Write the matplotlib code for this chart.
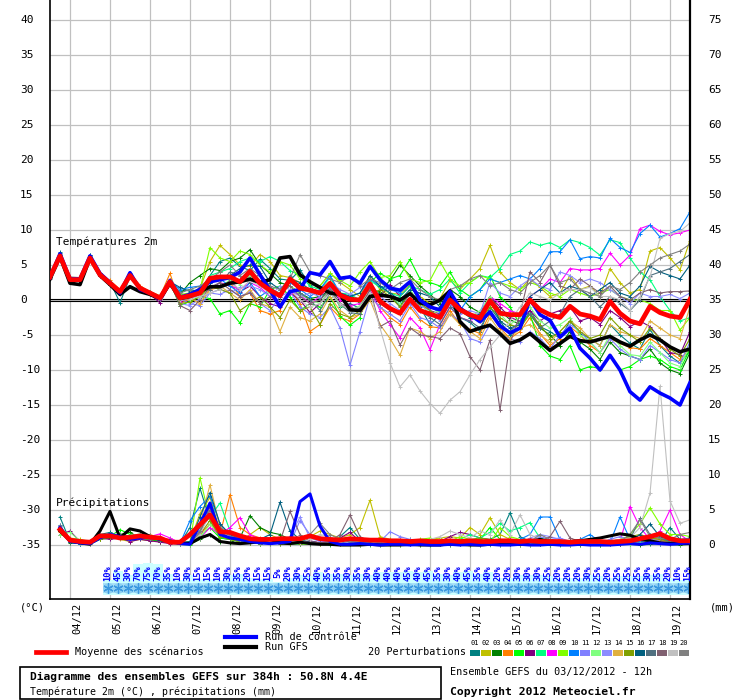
import numpy as np
import matplotlib
matplotlib.use('Agg')
import matplotlib.pyplot as plt
from matplotlib.patches import Rectangle

plt.rcParams['font.family'] = ['DejaVu Sans Mono', 'DejaVu Sans']

# ---- data: 6-hourly steps from 03/12 12h (65 steps, 384h) ----
date_labels = ['04/12', '05/12', '06/12', '07/12', '08/12', '09/12', '10/12', '11/12',
               '12/12', '13/12', '14/12', '15/12', '16/12', '17/12', '18/12', '19/12']

t_mean = [3.3, 6.3, 2.9, 2.9, 6.0, 3.6, 2.4, 1.2, 3.5, 1.7, 1.0, 0.3, 2.6,
          0.3, 0.6, 1.0, 3.1, 3.3, 3.3, 2.6, 4.1, 2.4, 1.4, 0.6, 3.0, 1.7,
          1.4, 1.0, 2.4, 0.7, 0.1, 0.0, 2.3, -0.2, -1.2, -1.9, 0.1, -1.5, -2.0,
          -2.5, 0.0, -1.4, -2.1, -2.6, -0.1, -1.9, -2.1, -2.1, 0.0, -1.4, -2.1, -2.5,
          -0.9, -2.0, -2.3, -2.8, -0.2, -1.9, -3.0, -3.4, -0.9, -1.8, -2.3, -2.5, 0.1]
t_ctrl = [3.2, 6.6, 3.0, 3.0, 6.3, 3.8, 2.5, 1.0, 3.9, 1.5, 1.0, 0.2, 2.8,
          0.4, 0.8, 1.5, 2.6, 2.9, 3.2, 4.0, 6.0, 3.6, 1.4, -1.0, 1.2, 1.5,
          3.9, 3.6, 5.5, 3.1, 3.3, 2.4, 4.8, 2.9, 1.7, 1.4, 2.6, 0.0, -1.0,
          -1.4, 1.2, -1.2, -2.1, -3.1, -1.7, -3.7, -4.7, -4.0, 0.1, -2.1, -2.9, -5.3,
          -4.0, -6.9, -8.3, -10.0, -7.9, -10.0, -13.1, -14.3, -12.4, -13.3, -14.0, -15.0, -11.8]
t_gfs = [3.0, 6.2, 2.4, 2.2, 6.0, 3.5, 2.2, 0.8, 1.9, 1.2, 0.8, 0.2, 2.4,
         0.2, 0.5, 1.2, 1.9, 1.9, 2.4, 2.6, 3.0, 2.5, 2.9, 6.0, 6.2, 3.6,
         2.6, 1.8, 1.0, 0.8, -1.4, -1.5, 0.5, 0.7, 0.5, 0.0, 0.9, -0.4, -0.7,
         0.0, 1.3, -3.1, -4.5, -4.0, -3.6, -4.8, -6.2, -5.7, -4.8, -6.0, -7.2, -6.2,
         -5.2, -5.8, -6.0, -5.6, -5.2, -6.0, -6.6, -5.7, -5.0, -5.7, -6.7, -7.4, -7.0]

t01 = [3.5, 6.8, 3.1, 3.0, 6.4, 3.9, 2.6, -0.4, 3.3, 1.6, 0.8, 0.2, 2.5,
       1.2, 1.5, 1.2, 3.5, 5.5, 6.0, 4.8, 4.2, 5.8, 4.5, 3.0, 2.8, 4.3,
       2.2, 0.0, 1.8, -1.0, -0.5, -1.2, 1.5, 1.0, 0.5, -0.8, 1.2, -1.0, -3.5,
       -2.0, -0.5, -2.5, -3.2, -4.5, -1.0, -3.0, -5.0, -4.2, -1.5, -3.8, -4.5, -5.5,
       -3.0, -4.8, -5.5, -6.5, -3.5, -5.0, -6.2, -7.0, -4.2, -6.5, -8.0, -9.0, -7.2]
t02 = [3.3, 6.2, 2.8, 2.9, 5.8, 3.5, 2.3, 1.2, 3.4, 1.8, 1.1, 0.4, 2.4,
       0.5, 0.2, 1.6, 5.5, 7.8, 6.5, 5.0, 4.8, 6.5, 5.5, 3.5, 3.2, 2.5,
       1.0, 2.0, 3.8, 2.5, 1.5, 0.5, 3.5, 1.5, 1.0, 0.8, 2.2, 0.5, -0.5,
       0.2, 2.8, 1.5, 3.0, 4.5, 7.8, 4.0, 2.5, 1.5, 3.0, 1.8, 0.5, 1.0,
       3.5, 1.5, 2.0, 0.5, 4.5, 2.5, 1.0, 1.5, 7.0, 7.5, 6.0, 4.3, 8.5]
t03 = [3.2, 6.4, 3.0, 2.8, 6.1, 3.7, 2.5, 1.3, 3.6, 1.6, 0.9, 0.3, 2.7,
       0.8, 2.5, 3.5, 4.5, 4.2, 5.5, 6.0, 7.2, 5.0, 3.8, 2.5, 2.0, 1.0,
       0.2, 0.5, 1.5, 0.0, 0.8, -0.5, 1.5, 1.2, 2.8, 5.0, 3.5, 2.0, 0.8,
       -0.5, 1.5, 0.5, -1.0, -1.8, 0.5, -1.5, -2.8, -3.5, -2.0, -4.0, -5.0, -6.5,
       -4.5, -6.0, -7.0, -8.5, -6.0, -7.5, -8.0, -8.5, -7.0, -9.0, -10.0, -10.5, -7.5]
t04 = [3.4, 6.3, 2.9, 3.1, 6.0, 3.5, 2.8, 1.5, 3.6, 2.0, 1.2, 0.5, 3.8,
       -0.5, 0.2, -0.5, 1.5, 1.8, 2.5, 0.5, 1.0, -1.5, -2.0, -1.5, 1.5, -0.5,
       -4.5, -3.5, -1.0, -2.5, -3.0, -2.0, 0.5, -1.0, -2.5, -3.5, -1.0, -2.8, -3.8,
       -4.0, -1.5, -3.5, -4.2, -4.8, -2.0, -4.0, -5.5, -4.5, -2.5, -4.8, -6.5, -5.5,
       -3.8, -5.0, -6.5, -7.5, -5.5, -6.2, -6.8, -7.0, -5.5, -6.5, -7.5, -8.5, -7.0]
t05 = [3.3, 6.3, 3.0, 2.9, 6.0, 3.6, 2.2, 1.0, 3.3, 1.5, 1.0, 0.3, 2.5,
       -0.8, -0.2, 0.5, 0.2, -2.0, -1.5, -3.3, -0.5, -1.0, 1.5, 2.0, 0.5, -1.5,
       -0.5, -1.0, 0.5, -2.3, -3.6, -2.5, 2.5, 3.8, 3.0, 3.5, 5.8, 3.0, 2.5,
       2.0, 4.0, 1.5, 0.5, 1.5, 3.5, 0.5, -1.0, -3.5, -2.0, -6.5, -8.0, -8.5,
       -6.5, -10.0, -9.5, -9.8, -8.0, -10.0, -9.5, -8.5, -8.0, -8.5, -9.5, -10.0, -7.0]
t06 = [3.1, 6.2, 2.8, 2.7, 6.2, 3.8, 2.4, 1.1, 3.7, 1.4, 0.8, -0.4, 2.2,
       0.6, 0.1, 0.8, 2.0, 1.5, 2.8, 1.2, 2.0, 0.5, -0.5, -1.0, 1.0, 0.0,
       -1.8, -0.5, 1.2, -0.5, -1.5, -1.0, 1.8, 0.5, 2.2, 0.5, 2.0, 0.0, -1.5,
       -2.0, 0.5, -1.0, -2.0, -2.5, 0.5, -1.0, -2.5, -3.0, -1.5, -3.0, -2.0, -1.5,
       -1.0, -3.0, -2.5, -3.5, -1.5, -2.5, -3.8, -3.0, -3.8, -5.5, -7.5, -7.8, -4.5]
t07 = [3.4, 6.5, 3.1, 3.0, 6.1, 3.7, 2.3, 1.2, 3.5, 1.8, 1.0, 0.4, 2.8,
       0.5, 0.9, 1.2, 3.5, 4.0, 4.5, 5.5, 6.0, 5.5, 6.2, 5.5, 4.2, 3.5,
       2.0, 1.5, 3.2, 1.0, 0.8, 0.0, 2.8, 1.8, 1.0, 0.5, 2.0, 1.5, 0.8,
       1.5, 3.0, 1.0, 2.5, 3.5, 3.2, 4.5, 6.5, 7.0, 8.3, 7.8, 8.2, 7.5,
       8.6, 8.2, 7.5, 6.4, 8.6, 8.2, 6.0, 4.0, 2.9, 0.5, -1.5, -3.0, -2.5]
t08 = [3.2, 6.3, 2.9, 3.0, 5.9, 3.4, 2.4, 1.1, 3.4, 1.7, 1.0, 0.2, 2.6,
       -0.3, 0.5, 0.8, 1.5, 2.5, 2.0, 1.5, 2.5, 1.8, 0.5, -0.5, 1.0, 0.8,
       -0.5, 0.5, 2.0, 0.0, -0.8, -0.5, 1.5, -1.5, -3.5, -5.4, -2.5, -4.0, -7.1,
       -3.5, -1.0, -2.5, -3.0, -2.0, 0.5, -0.5, -1.5, -2.0, 0.5, 1.5, 3.0, 2.5,
       4.5, 4.3, 4.3, 4.5, 6.7, 5.0, 6.4, 10.2, 10.7, 9.8, 9.3, 9.6, 10.0]
t09 = [3.5, 6.4, 3.2, 3.1, 6.2, 3.9, 2.6, 1.4, 3.8, 1.9, 1.2, 0.6, 2.9,
       0.8, 1.0, 1.5, 7.5, 6.0, 5.5, 7.0, 6.5, 5.0, 4.0, 5.5, 5.0, 3.0,
       2.5, 2.0, 3.8, 2.8, 2.0, 4.0, 5.5, 3.2, 3.5, 5.5, 3.0, 2.5, 2.8,
       5.5, 3.0, 2.0, 2.5, 3.5, 3.0, 2.5, 2.0, 1.5, 2.5, 2.0, 1.0, 0.5,
       1.5, 1.0, 0.5, 1.0, 1.5, 0.5, 0.0, 0.0, -0.5, -1.5, -1.5, -4.3, -2.5]
t10 = [3.3, 6.4, 3.0, 3.0, 6.1, 3.6, 2.4, 1.2, 3.6, 1.7, 1.1, 0.3, 2.7,
       1.5, 1.8, 2.0, 2.5, 3.0, 2.0, 1.0, 2.5, 0.5, 1.5, 1.0, 2.5, 1.5,
       0.5, 1.5, 3.5, 1.0, 0.5, 1.0, 3.0, 2.0, 1.5, 1.0, 2.5, -0.5, -1.0,
       -1.8, 0.5, -1.5, 0.5, 1.5, 3.0, 2.5, 3.0, 3.5, 3.0, 4.5, 6.9, 6.9,
       8.6, 5.9, 6.2, 6.0, 8.8, 7.5, 6.8, 9.5, 10.7, 9.0, 9.5, 10.2, 12.6]
t11 = [3.2, 6.3, 2.9, 2.9, 6.0, 3.6, 2.3, 1.1, 3.4, 1.6, 0.9, 0.2, 2.5,
       0.2, -0.5, -0.8, 1.0, 0.8, 1.5, 0.5, 1.2, -0.5, -1.5, 0.5, 1.2, -1.0,
       -2.0, -2.5, -1.0, -4.0, -9.3, -4.5, 0.5, -1.0, -2.0, -3.0, -0.5, -2.5, -3.0,
       -4.0, -2.0, -3.0, -5.5, -6.0, -3.5, -5.0, -5.5, -6.0, -4.5, -5.5, -7.0, -5.0,
       -3.5, -4.5, -6.0, -7.5, -5.5, -7.0, -8.0, -8.5, -6.5, -7.5, -8.5, -9.0, -6.0]
t12 = [3.6, 6.5, 3.2, 3.1, 6.3, 3.8, 2.5, 1.3, 3.5, 1.8, 1.1, 0.4, 2.6,
       0.4, 0.6, 0.3, 2.0, 1.5, 3.0, 2.2, 3.5, 2.5, 1.5, 1.0, 2.0, 0.8,
       0.0, -0.5, 1.5, -0.8, -1.5, -0.8, 1.8, 0.8, 0.5, -0.5, 1.5, -0.5, -2.0,
       -1.5, 0.8, -1.5, -2.5, -1.5, 0.5, -2.0, -3.5, -2.5, -1.0, -3.0, -4.0, -3.5,
       -2.5, -5.0, -6.0, -7.5, -5.0, -6.5, -7.8, -8.0, -6.0, -7.5, -9.0, -9.5, -6.5]
t13 = [3.1, 6.2, 2.8, 3.0, 6.0, 3.5, 2.4, 1.2, 3.5, 1.7, 1.0, 0.2, 2.5,
       -0.5, -0.8, 0.2, 1.0, 1.5, 1.0, 1.8, 2.0, 1.5, 0.5, 2.0, 1.5, 0.5,
       1.0, 0.5, 2.5, 1.5, 0.8, 1.8, 2.5, 0.5, -0.5, -1.5, 1.0, -0.8, -1.5,
       -3.0, -0.5, -2.0, -1.5, -2.0, 2.5, 1.0, 0.5, 2.0, 3.0, 2.0, 1.5, 4.0,
       3.5, 2.5, 3.0, 2.5, 1.5, 0.5, -0.5, 1.0, 0.5, 0.5, 0.8, 0.2, 1.0]
t14 = [3.2, 6.1, 2.9, 3.1, 5.9, 3.6, 2.6, 1.2, 3.4, 1.7, 1.0, 0.3, 2.9,
       0.0, 0.3, -0.5, 1.5, 2.0, 1.0, 0.0, 1.5, -0.5, -1.0, -4.5, -1.0, -2.5,
       -3.0, -2.0, 0.5, -1.5, -2.5, -2.0, 0.0, -3.5, -5.5, -7.9, -4.0, -4.5, -5.5,
       -4.5, -2.0, -3.5, -4.5, -5.5, -2.5, -4.5, -5.5, -4.0, -3.5, -5.0, -6.0, -4.5,
       -3.0, -4.0, -5.5, -6.5, -3.5, -4.5, -5.0, -5.5, -3.0, -4.0, -5.0, -5.5, -1.0]
t15 = [3.4, 6.3, 3.0, 2.9, 6.1, 3.6, 2.4, 1.2, 3.6, 1.8, 1.1, 0.4, 2.6,
       -0.5, -0.3, 0.5, 2.0, 1.5, 1.0, -1.5, -0.5, 0.5, -1.0, -2.5, 0.0, -1.5,
       -1.0, -3.5, -0.5, -2.0, -2.5, -1.5, 0.5, 1.5, 0.5, -1.0, 1.0, -0.5, -1.5,
       -2.5, 0.0, -1.5, -2.0, -3.0, -1.0, -2.5, -3.5, -4.0, -2.0, -3.5, -5.5, -4.5,
       -3.0, -4.5, -5.5, -5.0, -2.5, -4.0, -5.0, -6.0, -4.0, -5.5, -7.0, -8.0, -5.5]
t16 = [3.3, 6.7, 3.0, 2.9, 6.4, 3.7, 2.4, 1.3, 3.7, 1.7, 1.0, 0.3, 2.6,
       1.8, 1.2, 1.5, 2.5, 3.0, 3.5, 4.5, 5.0, 4.8, 2.5, 1.5, 3.0, 2.5,
       1.5, 0.8, 2.5, 1.0, 0.5, 1.0, 3.5, 2.0, 1.0, 0.0, 1.5, 1.0, 0.5,
       -1.0, 0.5, -1.5, -2.5, -2.0, 0.0, -3.0, -4.0, -3.5, 0.5, 1.5, 2.5, 1.0,
       2.0, 1.5, 0.5, 1.5, 2.5, 1.0, 0.5, 2.0, 4.8, 4.0, 3.5, 3.0, 5.0]
t17 = [3.0, 6.2, 2.7, 2.8, 6.1, 3.5, 2.2, 0.9, 3.3, 1.5, 0.9, 0.2, 2.4,
       0.3, 0.8, 1.8, 1.5, 2.5, 4.0, 3.5, 2.5, 3.8, 2.0, 0.5, 3.5, 1.0,
       0.0, -1.5, 1.0, -0.5, -1.8, -2.0, 1.0, -0.5, -1.5, -2.0, 0.0, -1.5, -2.5,
       -3.5, -1.0, -2.5, -3.0, -4.0, -1.5, -3.5, -4.5, -3.0, -2.0, -4.0, -3.0, -2.0,
       0.5, 1.5, 0.5, -1.0, 0.5, -0.5, -1.5, 0.0, 3.5, 4.0, 4.5, 5.5, 6.5]
t18 = [3.2, 6.3, 2.9, 3.0, 6.0, 3.6, 2.3, 1.1, 3.5, 1.6, 0.9, 0.2, 2.5,
       -0.8, -1.5, 0.0, 1.8, 2.5, 1.5, 0.5, 1.0, -0.5, 0.5, 1.0, 2.0, 0.5,
       -0.5, 0.0, 1.5, -0.5, -1.0, -1.5, 1.5, -3.8, -3.0, -6.4, -4.0, -5.0, -5.2,
       -5.5, -4.0, -4.8, -8.1, -10.0, -5.7, -15.7, -6.2, -2.0, 4.0, 2.5, 5.0, 2.0,
       1.5, 3.0, 2.0, 1.0, 2.0, 0.5, 0.0, 1.0, 1.5, 1.0, 1.2, 1.2, 1.3]
t19 = [3.1, 6.2, 2.8, 2.8, 5.8, 3.5, 2.3, 1.0, 3.3, 1.6, 1.0, 0.3, 2.4,
       0.0, 0.2, 0.5, 1.0, 1.5, 2.5, 1.5, 2.8, 2.0, 1.0, -0.5, 1.5, 0.0,
       -1.0, -0.5, 1.0, -0.5, -1.5, -1.0, 1.0, -4.0, -9.0, -12.4, -10.7, -13.0, -14.8,
       -16.2, -14.3, -13.1, -10.7, -8.5, -6.7, -5.0, -3.0, -1.0, 1.0, 0.5, 0.0, 1.0,
       1.5, 1.5, 1.8, 0.5, 0.5, 0.0, -1.5, 0.5, 3.3, 8.8, 9.5, 9.8, 11.0]
t20 = [3.4, 6.6, 3.3, 3.2, 6.3, 3.7, 2.5, 1.3, 3.6, 1.8, 1.1, 0.4, 2.7,
       1.0, 1.5, 2.0, 3.0, 4.0, 5.0, 3.5, 4.5, 3.5, 2.0, 1.5, 3.0, 6.5,
       4.0, 3.5, 3.0, 2.5, 3.5, 2.0, 3.0, 2.5, 1.5, 2.5, 3.0, 1.5, 0.5,
       0.0, 1.5, 2.0, 3.0, 3.5, 2.0, 2.5, 1.5, 1.0, 2.5, 3.5, 5.0, 2.5,
       3.0, 1.5, 1.0, 0.5, 2.0, 1.5, 2.5, 4.0, 5.0, 6.0, 6.5, 7.0, 8.0]

# precipitation (mm per 6h), steps 1..64
p_mean = [2.2, 0.7, 0.5, 0.4, 1.3, 1.3, 1.0, 1.1, 1.3, 1.1, 1.0, 0.4, 0.4, 1.5, 2.9, 4.3,
          1.9, 1.8, 1.3, 0.9, 0.8, 0.8, 0.9, 0.9, 0.9, 1.3, 0.9, 0.8, 0.7, 0.9, 0.8, 0.7,
          0.7, 0.6, 0.6, 0.5, 0.6, 0.5, 0.5, 0.6, 0.5, 0.6, 0.5, 0.5, 0.6, 0.6, 0.5, 0.6,
          0.5, 0.5, 0.5, 0.4, 0.5, 0.5, 0.5, 0.4, 0.5, 0.6, 0.9, 1.2, 1.6, 0.9, 0.6, 0.6]
p_ctrl = [2.5, 0.5, 0.3, 0.2, 1.0, 1.5, 1.2, 0.8, 1.0, 1.1, 0.8, 0.6, 0.2, 0.1, 3.0, 6.0,
          1.5, 1.0, 0.8, 0.5, 0.3, 0.2, 0.3, 0.5, 6.2, 7.3, 2.7, 0.5, 0.1, 0.1, 0.2, 0.1,
          0.0, 0.1, 0.1, 0.0, 0.1, 0.0, 0.0, 0.1, 0.0, 0.1, 0.0, 0.1, 0.0, 0.0, 0.1, 0.0,
          0.0, 0.1, 0.0, 0.0, 0.1, 0.0, 0.0, 0.0, 0.1, 0.2, 0.1, 0.3, 0.2, 0.1, 0.2, 0.3]
p_gfs = [2.0, 0.6, 0.3, 0.1, 2.0, 4.8, 1.0, 2.3, 2.0, 1.2, 0.8, 0.5, 0.3, 0.2, 1.0, 1.5,
         0.5, 0.3, 0.2, 0.3, 0.5, 0.8, 0.3, 0.2, 0.4, 0.2, 0.1, 0.1, 0.0, 0.0, 0.0, 0.1,
         0.0, 0.0, 0.0, 0.1, 0.0, 0.0, 0.0, 0.2, 0.1, 0.0, 0.0, 0.1, 0.3, 0.2, 0.1, 0.5,
         0.8, 0.5, 0.3, 0.5, 0.6, 0.8, 1.0, 1.3, 1.6, 1.4, 0.8, 0.6, 0.3, 0.2, 0.2, 0.2]

p01 = [4.0, 0.5, 0.2, 0.3, 1.5, 1.8, 1.2, 1.0, 1.5, 1.0, 0.8, 0.5, 0.2, 2.5, 8.1, 3.5,
       1.0, 0.8, 0.5, 0.3, 0.2, 0.5, 0.8, 1.0, 0.5, 0.3, 0.2, 0.5, 1.2, 2.5, 0.8, 0.3,
       0.2, 0.1, 0.2, 0.1, 0.2, 0.3, 0.2, 0.1, 0.3, 0.2, 0.5, 0.8, 1.5, 4.6, 1.2, 0.5,
       0.3, 0.2, 0.1, 0.2, 0.1, 0.2, 0.1, 0.3, 0.2, 0.5, 0.8, 0.6, 0.3, 2.5, 0.8, 0.3]
p02 = [2.0, 1.0, 0.8, 0.5, 0.8, 1.2, 0.8, 0.5, 0.8, 0.6, 0.5, 0.3, 0.1, 0.5, 4.5, 6.8,
       2.0, 0.8, 0.5, 1.5, 2.5, 1.5, 0.8, 0.3, 0.5, 1.2, 2.0, 1.5, 1.0, 1.5, 2.5, 6.4,
       1.2, 0.8, 0.5, 0.8, 0.6, 0.8, 1.0, 1.2, 1.0, 2.5, 1.5, 3.9, 1.5, 0.8, 0.5, 0.3,
       0.2, 0.1, 0.2, 0.3, 0.2, 0.1, 0.2, 0.3, 0.2, 0.5, 0.8, 0.6, 0.5, 0.5, 0.3, 0.4]
p03 = [2.5, 0.3, 0.2, 0.1, 0.8, 1.0, 1.5, 1.8, 1.0, 0.8, 0.5, 0.3, 0.2, 0.1, 0.8, 1.5,
       0.5, 0.3, 1.0, 4.2, 2.5, 1.8, 1.5, 0.8, 0.3, 0.2, 0.1, 0.1, 0.2, 0.1, 0.0, 0.1,
       0.0, 0.1, 0.0, 0.1, 0.0, 0.2, 0.1, 0.0, 0.1, 0.0, 0.0, 0.1, 0.0, 0.1, 0.0, 0.0,
       0.1, 0.0, 0.1, 0.0, 0.0, 0.1, 0.0, 0.1, 0.2, 0.1, 0.0, 0.1, 0.2, 0.1, 0.0, 0.1]
p04 = [1.8, 0.8, 0.5, 0.3, 1.2, 1.5, 1.0, 0.8, 1.2, 1.5, 1.0, 0.8, 0.5, 0.3, 1.5, 3.0,
       1.5, 7.2, 2.5, 1.5, 1.0, 0.8, 0.5, 0.3, 0.2, 0.5, 0.3, 0.2, 0.1, 0.2, 0.1, 0.2,
       0.1, 0.2, 0.3, 0.1, 0.2, 0.1, 0.2, 0.1, 0.2, 0.3, 0.2, 0.1, 0.2, 0.1, 0.2, 0.3,
       0.5, 0.4, 0.3, 0.2, 0.1, 0.2, 0.3, 0.2, 0.1, 0.3, 0.5, 0.8, 0.6, 0.4, 0.3, 0.5]
p05 = [2.0, 0.5, 0.3, 0.2, 1.0, 1.2, 2.2, 1.5, 1.0, 0.8, 0.6, 0.4, 0.1, 0.0, 1.2, 2.5,
       1.0, 0.8, 0.5, 0.3, 0.2, 0.3, 0.5, 0.2, 0.1, 0.2, 0.1, 0.0, 0.1, 0.2, 0.1, 0.0,
       0.1, 0.0, 0.1, 0.2, 0.1, 0.0, 0.1, 0.5, 0.3, 0.2, 0.8, 2.5, 0.8, 0.3, 0.2, 0.1,
       0.2, 0.1, 0.0, 0.1, 0.2, 0.1, 0.0, 0.1, 0.2, 0.1, 0.3, 0.5, 0.3, 0.2, 0.1, 0.4]
p06 = [1.5, 2.0, 0.5, 0.3, 1.0, 0.8, 1.0, 0.5, 0.8, 0.6, 0.4, 0.2, 0.1, 0.2, 1.5, 5.5,
       2.0, 1.0, 0.5, 0.3, 0.8, 0.5, 0.3, 0.2, 0.4, 0.6, 0.3, 0.5, 1.0, 1.8, 0.5, 0.3,
       0.2, 0.3, 0.5, 0.3, 0.2, 0.3, 0.5, 1.2, 1.8, 1.5, 1.0, 0.8, 0.5, 0.3, 0.2, 0.3,
       0.2, 0.3, 0.2, 0.1, 0.2, 0.3, 0.2, 0.1, 0.2, 0.3, 0.5, 1.0, 0.8, 0.5, 0.3, 0.2]
p07 = [2.2, 0.6, 0.4, 0.3, 1.2, 1.5, 1.2, 1.0, 1.4, 1.2, 0.9, 0.6, 0.2, 0.5, 2.5, 4.0,
       6.0, 2.0, 1.0, 0.5, 0.3, 0.2, 0.4, 0.6, 0.3, 0.2, 0.1, 0.2, 0.3, 0.2, 0.1, 0.2,
       0.1, 0.2, 0.3, 0.2, 0.1, 0.3, 0.2, 0.5, 0.8, 1.5, 1.0, 1.8, 3.1, 2.0, 2.5, 3.2,
       1.0, 0.5, 0.3, 0.2, 0.3, 0.5, 0.3, 0.2, 0.3, 0.5, 1.0, 1.5, 1.2, 0.8, 0.5, 0.3]
p08 = [2.0, 0.7, 0.4, 0.2, 1.1, 1.4, 1.1, 0.9, 1.3, 1.2, 1.6, 1.0, 0.3, 0.2, 1.0, 2.5,
       1.5, 2.5, 3.9, 1.5, 0.8, 0.5, 0.3, 0.5, 0.8, 1.2, 0.6, 0.3, 0.2, 0.5, 0.3, 0.2,
       0.1, 0.2, 0.1, 0.2, 0.1, 0.2, 0.3, 0.2, 0.1, 0.2, 0.1, 0.2, 0.3, 0.5, 0.8, 0.6,
       0.3, 0.2, 0.1, 0.2, 0.8, 0.5, 0.3, 0.2, 0.5, 5.5, 2.5, 0.8, 2.0, 5.0, 1.5, 0.5]
p09 = [2.3, 0.6, 0.3, 0.2, 1.1, 1.3, 1.3, 1.1, 1.2, 1.1, 0.9, 0.7, 0.3, 0.2, 9.6, 3.5,
       1.2, 0.8, 0.5, 0.3, 0.5, 0.3, 0.2, 0.4, 0.2, 0.1, 0.2, 0.3, 0.1, 0.2, 0.5, 0.3,
       0.2, 0.3, 0.2, 0.5, 0.8, 1.0, 0.6, 0.5, 1.2, 0.8, 0.5, 0.3, 2.5, 1.2, 0.8, 0.5,
       0.3, 0.2, 0.3, 0.2, 0.1, 0.2, 0.3, 0.2, 0.5, 1.5, 3.0, 5.3, 3.0, 1.5, 1.5, 1.2]
p10 = [2.8, 0.4, 0.2, 0.1, 1.3, 1.6, 1.4, 1.2, 1.0, 0.9, 0.8, 0.5, 0.2, 3.5, 5.5, 7.0,
       3.0, 1.5, 0.8, 0.5, 0.3, 0.4, 0.2, 0.1, 0.2, 0.3, 0.2, 0.1, 0.2, 0.1, 0.2, 0.1,
       0.2, 0.1, 0.2, 0.5, 0.3, 0.2, 0.1, 0.2, 0.3, 0.5, 0.3, 0.2, 0.1, 0.5, 0.8, 1.5,
       4.0, 4.0, 0.8, 0.3, 0.8, 1.5, 0.5, 0.3, 4.0, 0.8, 0.5, 0.3, 0.2, 0.5, 0.8, 1.0]
p11 = [2.4, 0.8, 0.5, 0.3, 1.2, 1.4, 1.2, 1.0, 1.1, 1.0, 0.8, 0.6, 0.3, 0.2, 2.0, 5.0,
       2.5, 1.2, 1.5, 1.0, 0.8, 0.5, 0.3, 0.2, 3.5, 1.5, 0.5, 0.3, 0.2, 0.3, 0.2, 0.3,
       0.5, 1.9, 1.2, 0.8, 0.5, 0.3, 0.2, 0.3, 0.2, 0.5, 0.3, 0.2, 0.1, 0.2, 0.3, 0.5,
       1.2, 0.8, 1.0, 0.5, 0.3, 0.2, 0.3, 0.8, 1.2, 0.8, 1.5, 1.0, 0.5, 0.3, 0.5, 0.4]
p12 = [1.5, 1.8, 0.6, 0.3, 1.0, 1.2, 1.0, 1.3, 1.6, 1.0, 0.7, 0.4, 0.2, 0.1, 1.0, 3.0,
       1.5, 1.0, 0.8, 0.4, 0.3, 0.2, 0.3, 0.5, 0.3, 0.2, 0.1, 0.2, 0.1, 0.0, 0.1, 0.2,
       0.1, 0.0, 0.1, 0.2, 0.1, 0.2, 0.3, 0.2, 0.1, 0.2, 0.1, 0.0, 0.1, 0.2, 0.1, 0.2,
       0.1, 0.2, 0.3, 0.2, 0.1, 0.2, 0.3, 0.5, 0.3, 0.2, 0.3, 0.5, 0.3, 0.2, 0.1, 0.2]
p13 = [2.6, 0.6, 0.3, 0.2, 1.3, 1.5, 1.3, 1.1, 1.2, 1.0, 0.7, 0.5, 0.2, 0.3, 2.2, 4.0,
       2.0, 1.5, 1.0, 0.6, 0.4, 0.3, 0.2, 1.2, 4.0, 1.0, 0.5, 0.3, 0.2, 0.4, 0.3, 0.2,
       0.1, 0.2, 0.3, 0.2, 0.1, 0.2, 0.5, 0.8, 0.5, 0.3, 0.2, 0.1, 0.2, 0.3, 0.2, 1.0,
       1.5, 1.2, 0.8, 0.5, 0.8, 0.5, 0.3, 0.2, 0.3, 0.5, 0.8, 0.5, 0.3, 0.2, 0.3, 0.8]
p14 = [2.1, 0.5, 0.3, 0.2, 1.0, 1.2, 1.1, 1.0, 1.2, 1.3, 1.0, 0.7, 0.3, 0.2, 3.0, 8.6,
       2.5, 1.5, 0.8, 0.5, 0.3, 0.2, 0.3, 0.5, 0.3, 0.2, 0.1, 0.3, 0.2, 0.1, 0.2, 0.3,
       0.1, 0.2, 0.1, 0.2, 0.3, 0.2, 0.5, 0.8, 0.5, 0.3, 0.2, 0.5, 0.8, 0.5, 0.3, 0.2,
       0.3, 0.5, 0.3, 0.2, 0.1, 0.3, 0.2, 0.5, 0.3, 0.5, 0.8, 1.0, 0.8, 0.5, 0.3, 0.4]
p15 = [2.0, 0.6, 0.3, 0.2, 0.9, 1.1, 1.2, 1.0, 1.1, 1.0, 0.8, 0.6, 0.3, 0.2, 1.5, 3.5,
       1.2, 0.8, 0.5, 0.3, 0.2, 0.3, 0.2, 0.1, 0.2, 0.3, 0.2, 0.1, 0.2, 0.3, 0.2, 0.1,
       0.2, 0.1, 0.2, 0.3, 0.2, 0.1, 0.2, 0.3, 0.5, 0.8, 1.0, 0.8, 0.5, 0.3, 0.2, 0.3,
       0.2, 0.3, 0.5, 0.3, 0.2, 0.1, 0.3, 0.5, 0.8, 1.2, 1.5, 1.0, 0.8, 0.5, 0.3, 0.2]
p16 = [2.5, 0.5, 0.3, 0.2, 1.2, 1.3, 1.2, 1.0, 1.2, 1.1, 0.9, 0.6, 0.3, 0.5, 4.0, 7.5,
       3.0, 1.5, 0.8, 0.5, 0.8, 1.5, 6.1, 2.0, 0.8, 0.5, 0.3, 0.2, 0.3, 0.5, 0.3, 0.2,
       0.1, 0.2, 0.3, 0.2, 0.1, 0.2, 0.3, 0.2, 0.1, 0.2, 0.3, 0.2, 0.1, 0.2, 0.5, 0.3,
       0.2, 0.1, 0.2, 0.3, 0.2, 0.1, 0.2, 0.3, 0.2, 0.5, 1.5, 3.0, 1.2, 0.5, 0.3, 0.3]
p17 = [2.7, 0.7, 0.4, 0.2, 1.3, 1.5, 1.2, 1.1, 1.3, 1.2, 0.9, 0.5, 0.2, 0.3, 2.0, 4.5,
       2.0, 1.0, 0.6, 0.4, 0.3, 0.2, 0.4, 0.5, 0.3, 0.2, 0.3, 0.5, 0.3, 0.2, 0.1, 0.2,
       0.1, 0.2, 0.3, 0.2, 0.3, 0.2, 0.1, 0.2, 0.3, 0.2, 0.1, 0.2, 0.3, 0.2, 0.5, 0.8,
       0.5, 0.3, 0.2, 0.5, 0.8, 0.5, 0.3, 0.2, 0.3, 0.8, 3.8, 1.5, 1.0, 0.5, 0.3, 0.8]
p18 = [2.2, 0.6, 0.3, 0.2, 1.1, 1.3, 1.1, 1.0, 1.2, 1.1, 0.9, 0.6, 0.3, 0.2, 1.8, 5.0,
       2.5, 1.2, 0.8, 0.5, 0.4, 0.3, 0.5, 4.8, 1.5, 0.5, 0.3, 0.5, 1.5, 4.3, 1.2, 0.5,
       0.3, 0.2, 0.3, 0.5, 0.3, 0.2, 0.3, 0.2, 0.5, 0.3, 0.2, 0.3, 0.5, 0.8, 0.5, 0.3,
       0.5, 1.2, 3.4, 1.0, 0.5, 0.3, 0.2, 0.3, 0.2, 0.5, 0.8, 0.5, 0.3, 0.2, 0.3, 0.2]
p19 = [2.4, 0.7, 0.3, 0.2, 1.2, 1.5, 1.3, 1.2, 1.4, 1.3, 1.0, 0.6, 0.3, 0.2, 1.5, 4.5,
       2.0, 1.2, 0.8, 0.5, 0.3, 0.5, 0.8, 0.5, 0.3, 0.8, 1.5, 1.2, 0.5, 0.3, 0.2, 0.3,
       0.2, 0.3, 0.5, 0.3, 0.5, 0.8, 1.2, 2.0, 1.5, 1.0, 2.0, 1.5, 3.6, 1.5, 4.3, 1.5,
       0.8, 0.5, 0.3, 0.5, 0.3, 0.2, 0.3, 0.5, 0.8, 1.0, 2.5, 7.4, 22.7, 6.3, 3.1, 3.6]
p20 = [2.8, 0.8, 0.4, 0.3, 1.4, 1.6, 1.4, 1.3, 1.5, 1.4, 1.1, 0.7, 0.3, 0.2, 2.0, 5.8,
       2.2, 1.3, 0.9, 0.6, 0.4, 0.3, 0.5, 0.6, 0.8, 1.5, 3.1, 1.5, 0.8, 0.5, 0.4, 0.3,
       0.2, 0.3, 0.2, 0.3, 0.2, 0.3, 0.5, 0.4, 0.3, 0.2, 0.3, 0.5, 0.8, 0.5, 0.3, 0.5,
       1.5, 0.8, 0.5, 0.3, 0.5, 0.8, 0.5, 0.3, 0.5, 1.5, 3.6, 1.2, 1.0, 0.8, 1.5, 1.8]

# snow probability (%), steps 6..64
snow_pct = [10, 45, 30, 70, 75, 70, 35, 10, 30, 15, 15, 10, 30, 35, 20, 15, 15, 5, 20,
            30, 25, 40, 35, 35, 30, 35, 30, 40, 40, 40, 45, 40, 45, 35, 30, 40, 45, 35,
            40, 20, 20, 30, 30, 30, 25, 20, 20, 20, 30, 25, 20, 25, 25, 25, 30, 35, 20, 10, 15]

member_colors = ['#008080', '#c0c000', '#008000', '#ff8000', '#00ff00', '#800080', '#00ff80',
                 '#ff00ff', '#80ff00', '#0080ff', '#8080ff', '#80ff80', '#8c8cff', '#e0b040',
                 '#80a000', '#006080', '#507080', '#806070', '#c0c0c0', '#808080']

temps = [t01, t02, t03, t04, t05, t06, t07, t08, t09, t10,
         t11, t12, t13, t14, t15, t16, t17, t18, t19, t20]
precs = [p01, p02, p03, p04, p05, p06, p07, p08, p09, p10,
         p11, p12, p13, p14, p15, p16, p17, p18, p19, p20]

steps_t = np.arange(len(t_mean))
steps_p = np.arange(1, len(p_mean) + 1)
steps_s = np.arange(6, 6 + len(snow_pct))
P0 = -35  # precipitation zero on the temperature scale

W, H = 740, 700
fig = plt.figure(figsize=(W / 100, H / 100), dpi=100)
ax = fig.add_axes([50 / W, 101 / H, 640 / W, 599 / H])
ax.set_xlim(0, 64)
ax.set_ylim(-299 / 7, 300 / 7)
ax.set_xticks([])
ax.set_yticks([])
ax.spines['top'].set_visible(False)
ax.spines['left'].set_linewidth(1.2)
ax.spines['right'].set_linewidth(1.6)
ax.spines['bottom'].set_linewidth(1.2)

# grid
for v in range(-35, 41, 5):
    ax.axhline(v, color='#c0c0c0', lw=0.9, zorder=0)
for g in range(2, 64, 4):
    ax.axvline(g, color='#c0c0c0', lw=0.9, zorder=0)
ax.axhline(0.17, color='black', lw=0.8, zorder=1)
ax.axhline(-0.2, color='black', lw=0.8, zorder=1)

# snow strip
ypx = lambda p: (300 - p) / 7
for s, pc in zip(steps_s, snow_pct):
    top = 583 - 0.27 * pc
    ax.bar(s - 0.2, ypx(top) - ypx(595), bottom=ypx(595), width=1.0,
           color='#ccffff', zorder=1, linewidth=0)
ax.add_patch(Rectangle((5.3, ypx(593)), 64 - 5.3, ypx(583) - ypx(593),
                       color='#a8e0f8', zorder=1.5, lw=0))
ax.scatter(steps_s - 0.2, np.full(len(steps_s), ypx(588)), s=60, marker='o',
           color='#8fd0f2', zorder=1.6, linewidths=0)
ax.scatter(steps_s - 0.2, np.full(len(steps_s), ypx(588)), s=45, marker=(6, 2, 0),
           color='#3a98e0', zorder=1.7, linewidths=0.9)
for s, pc in zip(steps_s, snow_pct):
    ax.text(s - 0.2, ypx(573), f'{pc}%', rotation=90, ha='center', va='center',
            color='#0000ff', fontsize=6.3, fontweight='bold', zorder=3)

# members
for t, p, c in zip(temps, precs, member_colors):
    ax.plot(steps_t, t, color=c, lw=0.8, marker='+', ms=3, mew=0.7, zorder=2)
    ax.plot(steps_p, np.array(p) + P0, color=c, lw=0.8, marker='+', ms=3, mew=0.7, zorder=2)

ax.plot(steps_t, t_gfs, color='black', lw=2.6, zorder=3)
ax.plot(steps_p, np.array(p_gfs) + P0, color='black', lw=2.2, zorder=3)
ax.plot(steps_t, t_ctrl, color='#0000ff', lw=2.6, zorder=4)
ax.plot(steps_p, np.array(p_ctrl) + P0, color='#0000ff', lw=2.2, zorder=4)
ax.plot(steps_t, t_mean, color='#ff0000', lw=3.4, zorder=5)
ax.plot(steps_p, np.array(p_mean) + P0, color='#ff0000', lw=3.4, zorder=5)

ax.text(0.6, 8.3, 'Températures 2m', fontsize=8, va='center', ha='left', zorder=6)
ax.text(0.6, -28.9, 'Précipitations', fontsize=8, va='center', ha='left', zorder=6)

# axis labels
ytr = ax.get_yaxis_transform()
for v in range(-35, 41, 5):
    ax.text(-30 / 640, v, str(v), transform=ytr, ha='left', va='center', fontsize=8)
    ax.text(1 + 18 / 640, v, str(v - P0), transform=ytr, ha='left', va='center', fontsize=8)
xtr = ax.get_xaxis_transform()
for k, lab in enumerate(date_labels):
    ax.text(2 + 4 * k + 0.7, -4 / 599, lab, transform=xtr, rotation=90,
            ha='center', va='top', fontsize=7.5)

# overlay in pixel coordinates for legend / footer
ov = fig.add_axes([0, 0, 1, 1])
ov.set_xlim(0, W)
ov.set_ylim(H, 0)
ov.axis('off')
ov.patch.set_alpha(0)

ov.text(32, 607, '(°C)', ha='center', va='center', fontsize=7.5)
ov.text(722, 607, '(mm)', ha='center', va='center', fontsize=7.5)

ov.plot([36, 66], [652, 652], color='#ff0000', lw=3.4)
ov.text(75, 652, 'Moyenne des scénarios', va='center', fontsize=7.3)
ov.plot([225, 256], [637, 637], color='#0000ff', lw=3.0)
ov.text(265, 637, 'Run de contrôle', va='center', fontsize=7.3)
ov.plot([225, 256], [647, 647], color='black', lw=3.0)
ov.text(265, 647, 'Run GFS', va='center', fontsize=7.3)
ov.text(466, 652, '20 Perturbations', ha='right', va='center', fontsize=7.3)
for k, c in enumerate(member_colors):
    ov.add_patch(Rectangle((470 + 11 * k, 650), 10, 6, color=c, lw=0))
    ov.text(475 + 11 * k, 643, f'{k + 1:02d}', ha='center', va='center', fontsize=5)

ov.add_patch(Rectangle((20, 667), 421, 32, fill=False, ec='black', lw=1.2))
ov.text(30, 677, 'Diagramme des ensembles GEFS sur 384h : 50.8N 4.4E',
        va='center', fontsize=8.1, fontweight='bold')
ov.text(30, 692, 'Température 2m (°C) , précipitations (mm)', va='center', fontsize=7.1)
ov.text(450, 672, 'Ensemble GEFS du 03/12/2012 - 12h', va='center', fontsize=7.3)
ov.text(450, 692, 'Copyright 2012 Meteociel.fr', va='center', fontsize=8.2, fontweight='bold')

fig.savefig('out.png', dpi=100)
